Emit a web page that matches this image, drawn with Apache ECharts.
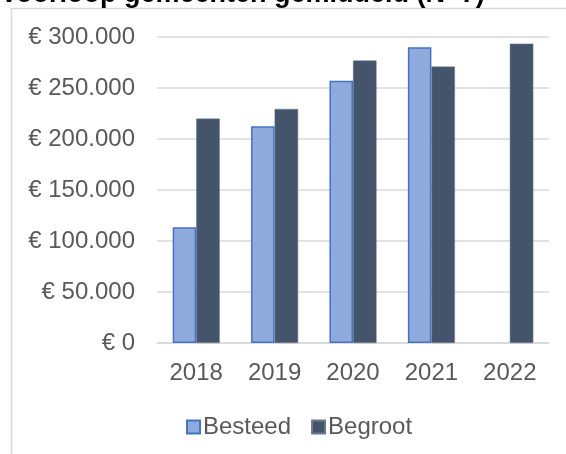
<!DOCTYPE html>
<html>
<head>
<meta charset="utf-8">
<script src="https://cdn.jsdelivr.net/npm/echarts@6/dist/echarts.min.js"></script>
<style>
    html, body { margin: 0; padding: 0; background: #fff; }
    #chart { width: 566px; height: 454px; }
</style>
</head>
<body>
<div id="chart"></div>
<script>
    // jaren en bedragen
    const years = ['2018', '2019', '2020', '2021', '2022'];
    const besteed = [113500, 212500, 257000, 290000, null];
    const begroot = [220000, 229500, 277000, 271000, 293500];
    const yTicks = [0, 50000, 100000, 150000, 200000, 250000, 300000];

    const fmtEuro = v => '€ ' + String(v).replace(/\B(?=(\d{3})+(?!\d))/g, '.');

    var myChart = echarts.init(document.getElementById('chart'));
    myChart.setOption({
        animation: false,
        textStyle: { fontFamily: 'Arial, "Liberation Sans", sans-serif' },
        graphic: [
            {
                type: 'rect',
                shape: { x: 11.5, y: 8.5, width: 700, height: 600 },
                style: { fill: 'none', stroke: '#D9D9D9', lineWidth: 1.5 },
                silent: true
            },
            {
                type: 'text',
                left: 0,
                top: -19,
                style: {
                    text: 'Voorloop gemeenten gemiddeld (N=7)',
                    font: 'bold 27px Arial, "Liberation Sans", sans-serif',
                    fill: '#000'
                }
            }
        ],
        grid: {
            left: 157,
            right: 17,
            top: 37,
            bottom: 111,
            containLabel: false
        },
        legend: {
            left: 181,
            top: 410,
            icon: 'rect',
            itemWidth: 13,
            itemHeight: 13,
            itemGap: 20,
            textStyle: { fontSize: 24, color: '#595959', padding: [0, 0, 0, -2] },
            data: ['Besteed', 'Begroot']
        },
        xAxis: {
            type: 'category',
            data: years,
            axisLine: { lineStyle: { color: '#D9D9D9', width: 1.5 } },
            axisTick: { show: false },
            axisLabel: { fontSize: 24, color: '#595959', margin: 18 }
        },
        yAxis: {
            type: 'value',
            min: yTicks[0],
            max: yTicks[yTicks.length - 1],
            interval: 50000,
            axisLine: { show: false },
            axisTick: { show: false },
            splitLine: { lineStyle: { color: '#D9D9D9', width: 1.5 } },
            axisLabel: { fontSize: 24, color: '#595959', margin: 22, formatter: fmtEuro }
        },
        series: [
            {
                name: 'Besteed',
                type: 'bar',
                data: besteed,
                barGap: '0%',
                barCategoryGap: '40%',
                itemStyle: { color: '#8FAADC', borderColor: '#4472C4', borderWidth: 1.5 }
            },
            {
                name: 'Begroot',
                type: 'bar',
                data: begroot,
                itemStyle: { color: '#44546A', borderColor: '#6E7A8C', borderWidth: 0.5 }
            }
        ]
    });
</script>
</body>
</html>
